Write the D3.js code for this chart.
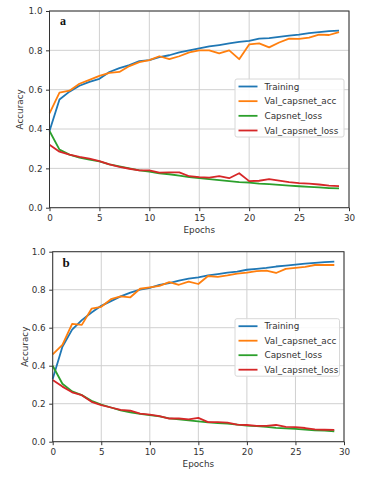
<!DOCTYPE html>
<html>
<head>
<meta charset="utf-8">
<script src="https://cdn.jsdelivr.net/npm/d3@7"></script>
<style>
  html, body { margin: 0; padding: 0; background: #fff; }
  svg { display: block; }
  text { font-family: "DejaVu Sans", sans-serif; }
</style>
</head>
<body>
<div id="chart"></div>
<script>
// DATA
const epochs = d3.range(0, 30);
const xTicks = [0, 5, 10, 15, 20, 25, 30];
const yTicks = [0, 0.2, 0.4, 0.6, 0.8, 1.0];
const seriesNames = ["Training", "Val_capsnet_acc", "Capsnet_loss", "Val_capsnet_loss"];
const seriesColors = ["#1f77b4", "#ff7f0e", "#2ca02c", "#d62728"];

// panel a
const trainA = [0.39, 0.55, 0.59, 0.62, 0.64, 0.655, 0.69, 0.71, 0.725, 0.745,
                0.75, 0.765, 0.775, 0.79, 0.80, 0.81, 0.82, 0.827, 0.835, 0.843,
                0.848, 0.86, 0.862, 0.868, 0.875, 0.88, 0.888, 0.893, 0.898, 0.90];
const valAccA = [0.48, 0.585, 0.595, 0.63, 0.65, 0.67, 0.685, 0.69, 0.72, 0.74,
                 0.75, 0.77, 0.755, 0.77, 0.79, 0.80, 0.80, 0.785, 0.80, 0.755,
                 0.83, 0.835, 0.815, 0.84, 0.86, 0.858, 0.865, 0.88, 0.878, 0.893];
const lossA = [0.39, 0.295, 0.27, 0.255, 0.245, 0.235, 0.22, 0.21, 0.20, 0.19,
               0.183, 0.175, 0.17, 0.163, 0.155, 0.15, 0.145, 0.14, 0.135, 0.13,
               0.128, 0.122, 0.12, 0.116, 0.112, 0.109, 0.106, 0.103, 0.10, 0.098];
const valLossA = [0.32, 0.285, 0.27, 0.258, 0.25, 0.237, 0.22, 0.208, 0.198, 0.19,
                  0.19, 0.178, 0.18, 0.18, 0.16, 0.155, 0.153, 0.16, 0.15, 0.175,
                  0.135, 0.137, 0.145, 0.138, 0.13, 0.125, 0.122, 0.118, 0.112, 0.11];

// panel b
const trainB = [0.33, 0.50, 0.59, 0.64, 0.68, 0.715, 0.74, 0.765, 0.785, 0.80,
                0.81, 0.825, 0.835, 0.848, 0.858, 0.865, 0.875, 0.882, 0.89, 0.895,
                0.905, 0.91, 0.915, 0.922, 0.927, 0.932, 0.937, 0.941, 0.945, 0.948];
const valAccB = [0.46, 0.51, 0.62, 0.615, 0.70, 0.71, 0.75, 0.765, 0.76, 0.805,
                 0.812, 0.82, 0.84, 0.826, 0.843, 0.83, 0.872, 0.868, 0.875, 0.885,
                 0.89, 0.898, 0.90, 0.888, 0.91, 0.915, 0.92, 0.93, 0.93, 0.93];
const lossB = [0.40, 0.305, 0.265, 0.245, 0.215, 0.195, 0.18, 0.165, 0.155, 0.147,
               0.14, 0.133, 0.123, 0.118, 0.112, 0.107, 0.102, 0.098, 0.095, 0.09,
               0.085, 0.082, 0.078, 0.073, 0.07, 0.068, 0.064, 0.06, 0.058, 0.055];
const valLossB = [0.325, 0.29, 0.26, 0.245, 0.21, 0.193, 0.18, 0.168, 0.163, 0.148,
                  0.142, 0.135, 0.122, 0.122, 0.118, 0.125, 0.103, 0.103, 0.10, 0.09,
                  0.088, 0.083, 0.083, 0.088, 0.078, 0.077, 0.072, 0.065, 0.063, 0.062];

// PANELS (layout only)
const panels = [
    { tag: "a", series: [trainA, valAccA, lossA, valLossA],
      left: 49.5, right: 349, top: 11, bottom: 207.7,
      legend: { x: 235, y: 79, w: 109, h: 58 }, tagPos: [60, 25], tagSize: 12,
      yLabelX: 20, xLabelY: 233 },
    { tag: "b", series: [trainB, valAccB, lossB, valLossB],
      left: 52.7, right: 344, top: 251.7, bottom: 441.7,
      legend: { x: 235, y: 318.7, w: 104.5, h: 57.5 }, tagPos: [62.5, 266.5], tagSize: 13,
      yLabelX: 24.5, xLabelY: 466.5 }
];

const w = 365;
const h = 480;

const svg = d3.select('#chart')
    .append('svg')
    .attr('width', w)
    .attr('height', h);

panels.forEach(drawPanel);

function drawPanel(p) {
    const xScale = d3.scaleLinear().domain([0, 30]).range([p.left, p.right]);
    const yScale = d3.scaleLinear().domain([0, 1]).range([p.bottom, p.top]);
    const g = svg.append('g');

    // GRID
    g.selectAll('line.vgrid')
        .data(xTicks)
        .enter()
        .append('line')
        .attr('x1', d => xScale(d)).attr('x2', d => xScale(d))
        .attr('y1', p.top).attr('y2', p.bottom)
        .attr('stroke', '#d0d0d0')
        .attr('stroke-width', 1);
    g.selectAll('line.hgrid')
        .data(yTicks)
        .enter()
        .append('line')
        .attr('y1', d => yScale(d)).attr('y2', d => yScale(d))
        .attr('x1', p.left).attr('x2', p.right)
        .attr('stroke', '#d0d0d0')
        .attr('stroke-width', 1);

    // LINES
    const line = d3.line()
        .x((d, i) => xScale(epochs[i]))
        .y(d => yScale(d));
    g.selectAll('path.series')
        .data(p.series)
        .enter()
        .append('path')
        .attr('d', line)
        .attr('fill', 'none')
        .attr('stroke', (d, i) => seriesColors[i])
        .attr('stroke-width', 1.8)
        .attr('stroke-linejoin', 'round');

    // FRAME
    g.append('rect')
        .attr('x', p.left).attr('y', p.top)
        .attr('width', p.right - p.left)
        .attr('height', p.bottom - p.top)
        .attr('fill', 'none')
        .attr('stroke', '#333')
        .attr('stroke-width', 1);

    // AXES
    const xAxis = d3.axisBottom(xScale)
        .tickValues(xTicks)
        .tickFormat(d3.format('d'))
        .tickSize(3.5)
        .tickPadding(3.5);
    const yAxis = d3.axisLeft(yScale)
        .tickValues(yTicks)
        .tickFormat(d3.format('.1f'))
        .tickSize(3.5)
        .tickPadding(3.5);
    const gx = g.append('g')
        .attr('transform', `translate(0, ${p.bottom})`)
        .call(xAxis);
    const gy = g.append('g')
        .attr('transform', `translate(${p.left}, 0)`)
        .call(yAxis);
    [gx, gy].forEach(a => {
        a.select('.domain').remove();
        a.selectAll('line').attr('stroke', '#333');
        a.selectAll('text')
            .attr('fill', '#333')
            .style('font-family', '"DejaVu Sans", sans-serif')
            .style('font-size', '8.8px');
    });

    // AXIS LABELS
    g.append('text')
        .attr('x', (p.left + p.right) / 2)
        .attr('y', p.xLabelY)
        .attr('text-anchor', 'middle')
        .attr('font-size', '8.8px')
        .attr('fill', '#333')
        .text('Epochs');
    g.append('text')
        .attr('transform', `translate(${p.yLabelX}, ${(p.top + p.bottom) / 2}) rotate(-90)`)
        .attr('text-anchor', 'middle')
        .attr('dy', '0.35em')
        .attr('font-size', '8.8px')
        .attr('fill', '#333')
        .text('Accuracy');

    // PANEL TAG
    g.append('text')
        .attr('x', p.tagPos[0])
        .attr('y', p.tagPos[1])
        .style('font-family', '"Liberation Serif", serif')
        .attr('font-weight', 'bold')
        .attr('font-size', p.tagSize + 'px')
        .attr('fill', '#111')
        .text(p.tag);

    // LEGEND
    const lg = g.append('g')
        .attr('transform', `translate(${p.legend.x}, ${p.legend.y})`);
    lg.append('rect')
        .attr('width', p.legend.w)
        .attr('height', p.legend.h)
        .attr('rx', 2)
        .attr('fill', 'rgba(255,255,255,0.85)')
        .attr('stroke', '#d8d8d8')
        .attr('stroke-width', 1);
    const rowH = (p.legend.h - 14) / 3;
    const items = lg.selectAll('g.item')
        .data(seriesNames)
        .enter()
        .append('g')
        .attr('transform', (d, i) => `translate(0, ${7.5 + i * rowH})`);
    items.append('line')
        .attr('x1', 3.5).attr('x2', 22.5)
        .attr('stroke', (d, i) => seriesColors[i])
        .attr('stroke-width', 1.8);
    items.append('text')
        .attr('x', 29.5)
        .attr('dy', '0.35em')
        .attr('font-size', '8.8px')
        .attr('fill', '#333')
        .text(d => d);
}
</script>
</body>
</html>
